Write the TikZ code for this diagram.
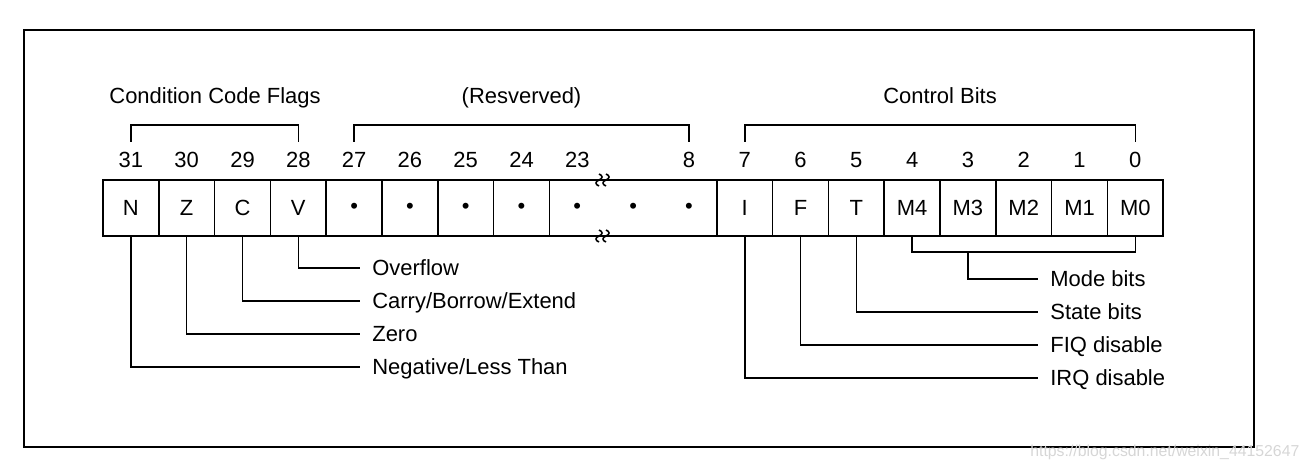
\documentclass[tikz,border=0pt]{standalone}
\usepackage{fontspec}
\setmainfont{Liberation Sans}
\usepackage{xcolor}
\usetikzlibrary{positioning,calc}
\definecolor{InkBlack}{HTML}{000000}
\definecolor{MarkGray}{HTML}{D6D6D6}

\tikzset{
  bitcell/.style={draw=InkBlack, line width=0.9pt, minimum width=1.116cm, minimum height=1.12cm,
    inner sep=0pt, font=\fontsize{12.5}{15}\selectfont},
  bitnum/.style={font=\fontsize{12.5}{15}\selectfont, inner sep=0pt, anchor=base},
  grouplbl/.style={font=\fontsize{12.5}{15}\selectfont, inner sep=0pt, anchor=base},
  fieldlbl/.style={font=\fontsize{12.5}{15}\selectfont, inner xsep=0.24cm, inner ysep=0pt,
    text height=8.5pt, text depth=0pt, anchor=west},
  wire/.style={draw=InkBlack, line width=0.9pt}
}

\begin{document}
\begin{tikzpicture}[x=0.02cm, y=-0.02cm]
  \useasboundingbox (0,0) rectangle (1310,469);

  % Outer frame
  \draw[line width=1.3pt] (24,30) rectangle (1254,447);

  % Helper rows
  \coordinate (brk) at (0,125);
  \coordinate (leg) at (0,142);
  \coordinate (modebar) at (0,252);

  % Group labels
  \node[grouplbl] (ccf) at (215,104) {Condition Code Flags};
  \node[grouplbl] (rsvlbl) at (521.5,104) {(Resverved)};
  \node[grouplbl] (ctl) at (940,104) {Control Bits};

  % Bit cells: flags and reserved
  \foreach \nm/\lbl [count=\k from 0] in {n/N, z/Z, c/C, v/V, r27/\textbullet, r26/\textbullet, r25/\textbullet, r24/\textbullet} {
    \node[bitcell] (\nm) at ({103+55.8*(\k+0.5)},208) {\lbl};
  }

  % Wide reserved cell 23..8
  \node[bitcell, minimum width=3.348cm] (rsv) at (633.1,208) {};
  \foreach \nm [count=\k from 8] in {d1,d2,d3} {
    \node[inner sep=0pt, font=\fontsize{12.5}{15}\selectfont] (\nm) at ({103+55.8*(\k+0.5)},208) {\textbullet};
  }

  % Bit cells: control
  \foreach \nm/\lbl [count=\k from 11] in {i/I, f/F, t/T, m4/M4, m3/M3, m2/M2, m1/M1, m0/M0} {
    \node[bitcell] (\nm) at ({103+55.8*(\k+0.5)},208) {\lbl};
  }

  % Break marks on the wide cell
  \foreach \yy in {180,236} {
    \foreach \xx in {599,606} {
      \draw[line width=0.9pt] (\xx,\yy-6) .. controls (\xx+4,\yy-4.5) and (\xx+4,\yy-1.5) .. (\xx,\yy)
        .. controls (\xx-4,\yy+1.5) and (\xx-4,\yy+4.5) .. (\xx,\yy+6);
    }
  }

  % Bit numbers
  \foreach \b [count=\k from 0] in {31,30,29,28,27,26,25,24,23} {
    \node[bitnum] (b\b) at ({103+55.8*(\k+0.5)},168) {\b};
  }
  \foreach \b [count=\k from 10] in {8,7,6,5,4,3,2,1,0} {
    \node[bitnum] (b\b) at ({103+55.8*(\k+0.5)},168) {\b};
  }

  % Group brackets
  \draw[wire] (b31 |- leg) -- (b31 |- brk) -- (b28 |- brk) -- (b28 |- leg);
  \draw[wire] (b27 |- leg) -- (b27 |- brk) -- (b8 |- brk) -- (b8 |- leg);
  \draw[wire] (b7 |- leg) -- (b7 |- brk) -- (b0 |- brk) -- (b0 |- leg);

  % Flag descriptions
  \node[fieldlbl] (ovf) at (360,268) {Overflow};
  \node[fieldlbl] (cbe) at (360,301) {Carry/Borrow/Extend};
  \node[fieldlbl] (zro) at (360,334) {Zero};
  \node[fieldlbl] (neg) at (360,367) {Negative/Less Than};
  \draw[wire] (v.south) |- (ovf.west);
  \draw[wire] (c.south) |- (cbe.west);
  \draw[wire] (z.south) |- (zro.west);
  \draw[wire] (n.south) |- (neg.west);

  % Control descriptions
  \node[fieldlbl] (mode) at (1038,279) {Mode bits};
  \node[fieldlbl] (state) at (1038,312) {State bits};
  \node[fieldlbl] (fiq) at (1038,345) {FIQ disable};
  \node[fieldlbl] (irq) at (1038,378) {IRQ disable};
  \draw[wire] (m4.south) -- (m4 |- modebar) -- (m0 |- modebar) -- (m0.south);
  \draw[wire] (m3 |- modebar) |- (mode.west);
  \draw[wire] (t.south) |- (state.west);
  \draw[wire] (f.south) |- (fiq.west);
  \draw[wire] (i.south) |- (irq.west);

  % Watermark
  \node[anchor=base west, inner sep=0pt, text=MarkGray, font=\fontsize{9}{11}\selectfont] (wm) at (1030,456) {https://blog.csdn.net/weixin\_44152647};
\end{tikzpicture}
\end{document}
